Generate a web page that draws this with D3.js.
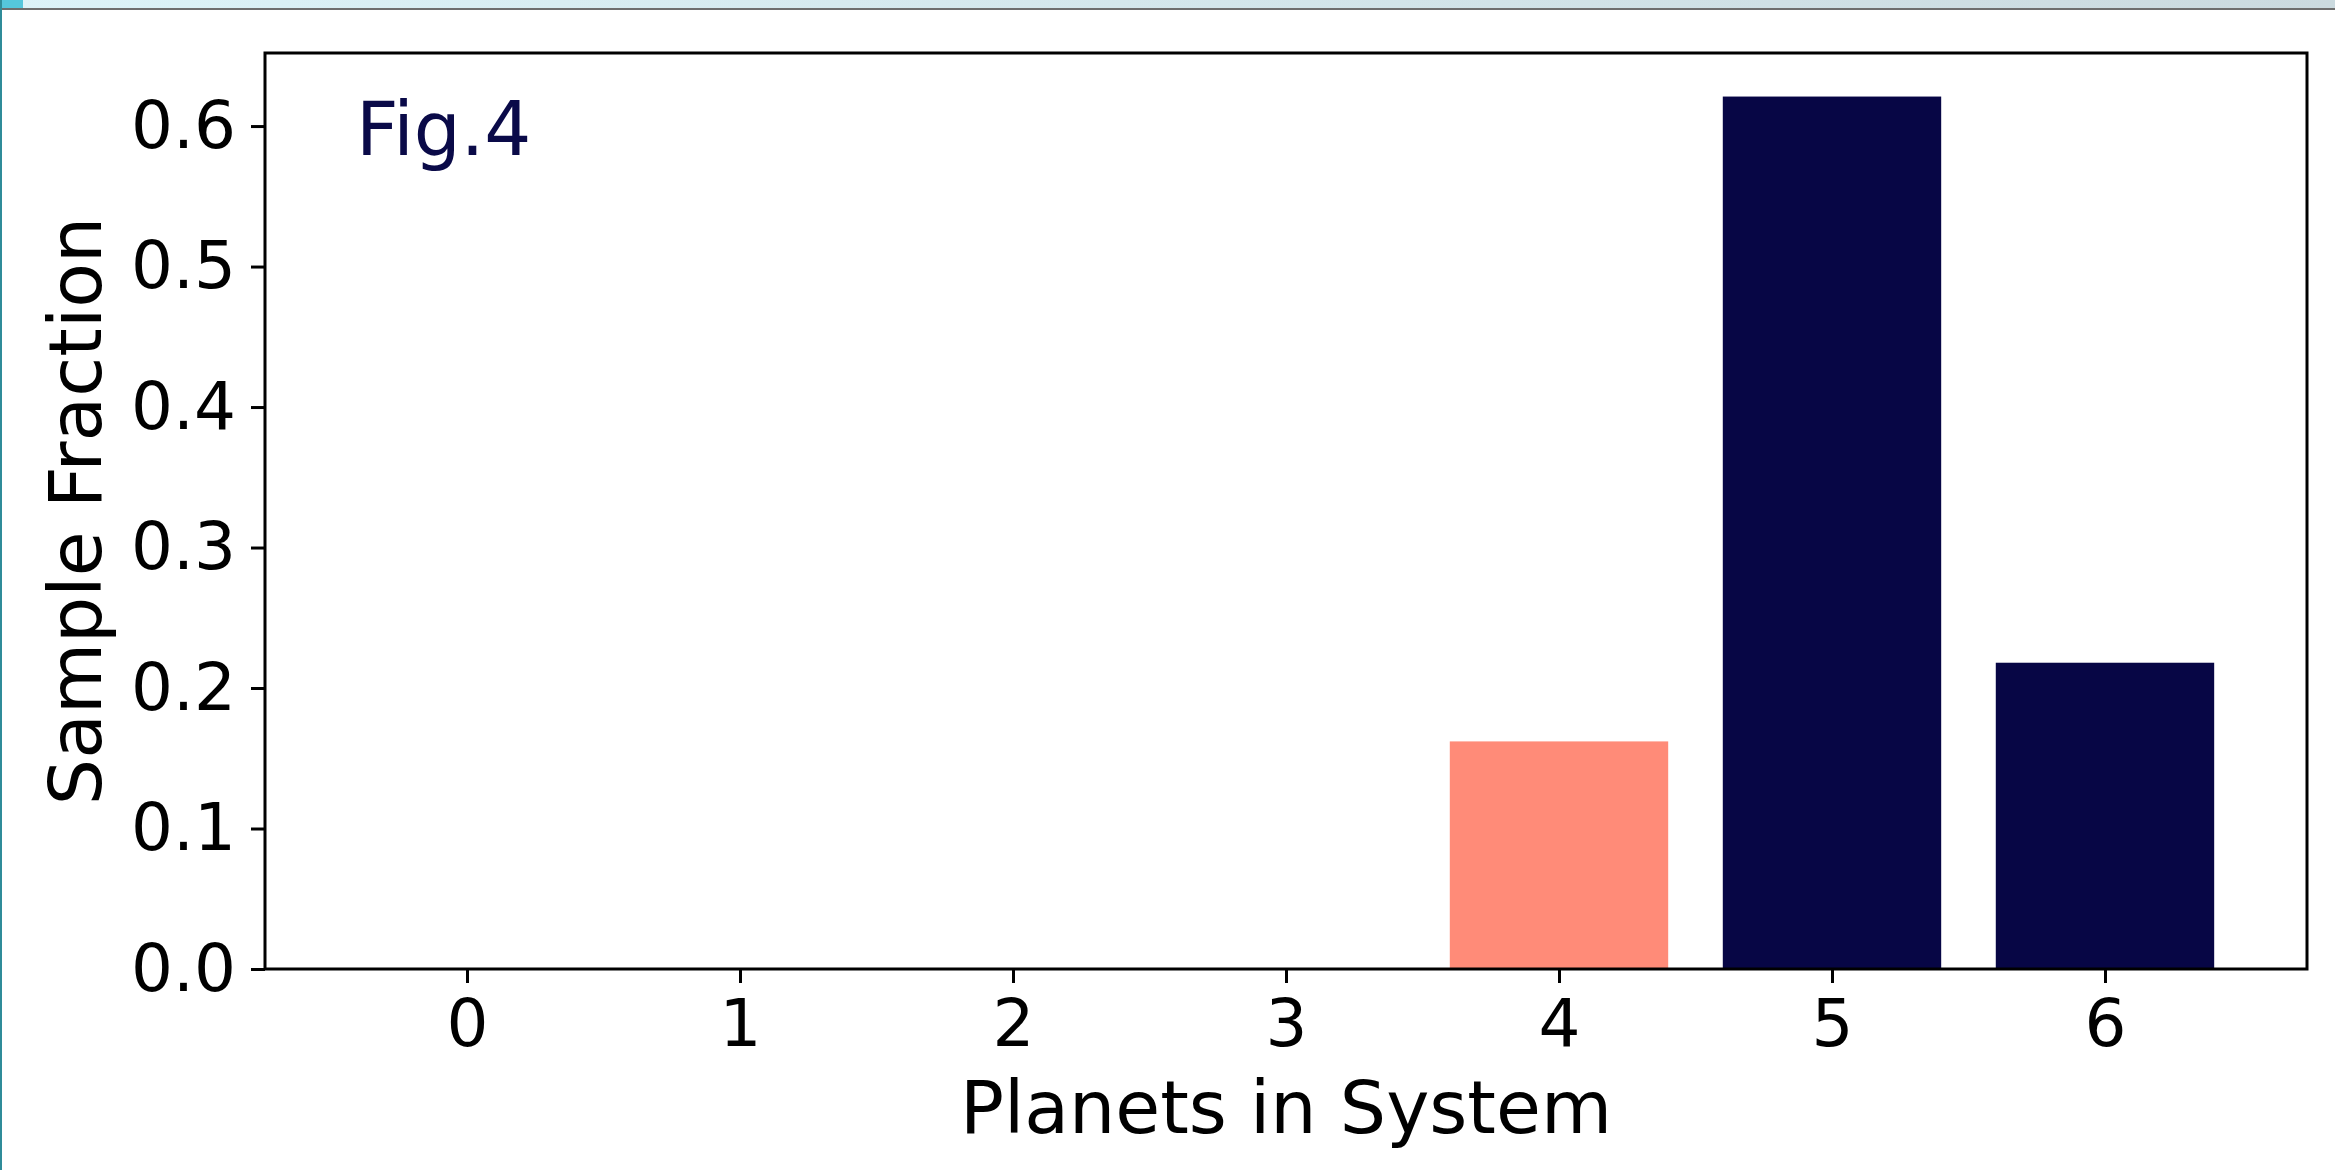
<!DOCTYPE html>
<html>
<head>
<meta charset="utf-8">
<script src="https://cdn.jsdelivr.net/npm/d3@7"></script>
<style>
  body { margin: 0; background: #fff; }
  svg { display: block; font-family: "DejaVu Sans", sans-serif; }
</style>
</head>
<body>
<script>
var planets = [0, 1, 2, 3, 4, 5, 6];
var fraction = [0, 0, 0, 0, 0.162, 0.621, 0.218];
var yTicks = [0, 0.1, 0.2, 0.3, 0.4, 0.5, 0.6];
var highlight = 4;

var W = 2335, H = 1170;
var plotL = 265, plotR = 2307, plotT = 53, plotB = 969;

var svg = d3.select("body").append("svg")
  .attr("width", W)
  .attr("height", H);

// window chrome strip at the top of the screenshot
var grad = svg.append("defs").append("linearGradient").attr("id", "strip");
grad.append("stop").attr("offset", "0%").attr("stop-color", "#dcf3f8");
grad.append("stop").attr("offset", "100%").attr("stop-color", "#cbdadf");
svg.append("rect").attr("x", 0).attr("y", 0).attr("width", W).attr("height", 8).attr("fill", "url(#strip)");
svg.append("rect").attr("x", 0).attr("y", 0).attr("width", 23).attr("height", 8).attr("fill", "#55c7dc");
svg.append("rect").attr("x", 0).attr("y", 8).attr("width", W).attr("height", 2).attr("fill", "#6e6e6e");
svg.append("rect").attr("x", 0).attr("y", 0).attr("width", 2).attr("height", H).attr("fill", "#2f8c99");

var x = d3.scaleLinear().domain([-0.74, 6.74]).range([plotL, plotR]);
var y = d3.scaleLinear().domain([0, 0.652]).range([plotB, plotT]);
var bw = x(0.8) - x(0);

svg.selectAll("rect.bar")
  .data(planets)
  .enter()
  .append("rect")
  .attr("class", "bar")
  .attr("x", function(d) { return x(d - 0.4); })
  .attr("y", function(d, i) { return y(fraction[i]); })
  .attr("width", bw)
  .attr("height", function(d, i) { return y(0) - y(fraction[i]); })
  .attr("fill", function(d) { return d === highlight ? "#ff8b78" : "#070645"; });

var xAxis = svg.append("g")
  .attr("transform", "translate(0," + plotB + ")")
  .call(d3.axisBottom(x).tickValues(planets).tickFormat(d3.format("d")).tickSize(14).tickPadding(16));

var yAxis = svg.append("g")
  .attr("transform", "translate(" + plotL + ",0)")
  .call(d3.axisLeft(y).tickValues(yTicks).tickFormat(d3.format(".1f")).tickSize(14).tickPadding(15));

[xAxis, yAxis].forEach(function(g) {
  g.select(".domain").remove();
  g.selectAll(".tick line").attr("stroke", "#000").attr("stroke-width", 3);
  g.selectAll(".tick text")
    .attr("fill", "#000")
    .style("font-size", "66px")
    .style("font-family", "DejaVu Sans");
});

// frame
svg.append("rect")
  .attr("x", plotL)
  .attr("y", plotT)
  .attr("width", plotR - plotL)
  .attr("height", plotB - plotT)
  .attr("fill", "none")
  .attr("stroke", "#000")
  .attr("stroke-width", 3);

svg.append("text")
  .attr("x", 356)
  .attr("y", 155)
  .style("font-size", "74px")
  .attr("fill", "#0a0a48")
  .text("Fig.4");

svg.append("text")
  .attr("x", (plotL + plotR) / 2)
  .attr("y", 1133)
  .attr("text-anchor", "middle")
  .style("font-size", "73px")
  .attr("fill", "#000")
  .text("Planets in System");

svg.append("text")
  .attr("transform", "translate(101," + (plotT + plotB) / 2 + ") rotate(-90)")
  .attr("text-anchor", "middle")
  .style("font-size", "73px")
  .attr("fill", "#000")
  .text("Sample Fraction");
</script>
</body>
</html>
